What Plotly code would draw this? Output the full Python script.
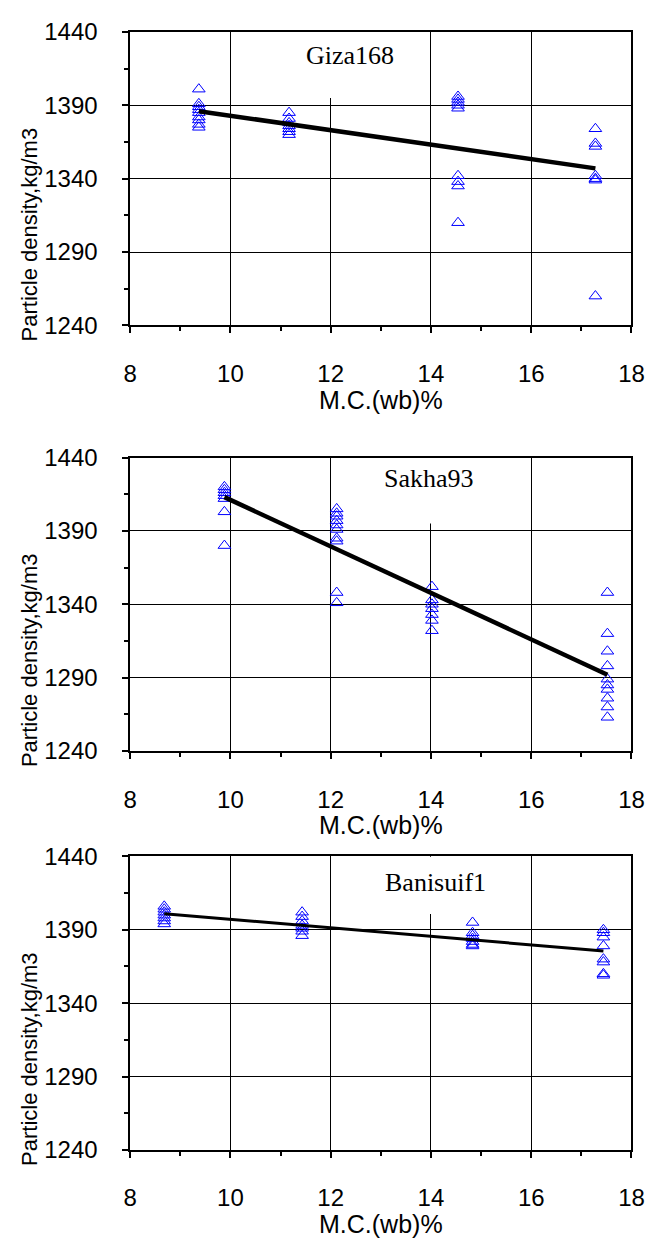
import plotly.graph_objects as go

# ---------------- data ----------------
varieties = ["Giza168", "Sakha93", "Banisuif1"]

giza_mc = [9.37, 9.37, 9.37, 9.37, 9.37, 9.37, 9.37, 9.37, 9.37,
           11.17, 11.17, 11.17, 11.17, 11.17, 11.17, 11.17,
           14.54, 14.54, 14.54, 14.54, 14.54, 14.54, 14.54, 14.54, 14.54,
           17.28, 17.28, 17.28, 17.28, 17.28, 17.28, 17.28]
giza_density = [1401, 1391, 1389, 1387, 1385, 1382, 1380, 1377, 1375,
                1385, 1381, 1378, 1376, 1374, 1372, 1370,
                1396, 1394, 1392, 1390, 1388, 1342, 1338, 1335, 1310,
                1374, 1364, 1362, 1342, 1340, 1339, 1260]
giza_fit_mc = [9.37, 17.28]
giza_fit_density = [1386, 1347]

sakha_mc = [9.88, 9.88, 9.88, 9.88, 9.88, 9.88, 9.88,
            12.12, 12.12, 12.12, 12.12, 12.12, 12.12, 12.12, 12.12, 12.12, 12.12,
            14.02, 14.02, 14.02, 14.02, 14.02, 14.02, 14.02,
            17.52, 17.52, 17.52, 17.52, 17.52, 17.52, 17.52, 17.52, 17.52, 17.52]
sakha_density = [1420, 1418, 1416, 1414, 1412, 1403, 1380,
                 1405, 1402, 1400, 1397, 1394, 1391, 1385, 1383, 1348, 1341,
                 1352, 1343, 1340, 1337, 1333, 1329, 1322,
                 1348, 1320, 1308, 1298, 1289, 1285, 1282, 1276, 1270, 1263]
sakha_fit_mc = [9.88, 17.52]
sakha_fit_density = [1413, 1292]

bani_mc = [8.68, 8.68, 8.68, 8.68, 8.68, 8.68, 8.68,
           11.43, 11.43, 11.43, 11.43, 11.43, 11.43, 11.43,
           14.83, 14.83, 14.83, 14.83, 14.83, 14.83, 14.83,
           17.44, 17.44, 17.44, 17.44, 17.44, 17.44, 17.44, 17.44]
bani_density = [1406, 1404, 1402, 1400, 1398, 1396, 1394,
                1402, 1399, 1396, 1393, 1391, 1389, 1386,
                1395, 1388, 1386, 1384, 1382, 1380, 1379,
                1390, 1388, 1385, 1379, 1370, 1368, 1360, 1359]
bani_fit_mc = [8.68, 17.44]
bani_fit_density = [1401, 1375.5]

x_title = "M.C.(wb)%"
y_title = "Particle density,kg/m3"
x_ticks = [8, 10, 12, 14, 16, 18]
y_ticks = [1240, 1290, 1340, 1390, 1440]

# ---------------- layout geometry (pixels) ----------------
W, H = 660, 1251
X0, X1 = 127, 644
panel_tops = [18.3, 453.3, 861.0]
panel_h = 300.0
title_pos = [(12.39, 1424), (13.96, 1426), (14.10, 1422)]
fit_widths = [4.5, 4.5, 3]
mask_boxes = [(11.35, 13.47, 1395), (12.99, 15.02, 1395), (12.99, 15.2, 1400.7)]

SANS = "Liberation Sans, Arial, sans-serif"
SERIF = "Liberation Serif, Times New Roman, serif"

panels = [(giza_mc, giza_density, giza_fit_mc, giza_fit_density),
          (sakha_mc, sakha_density, sakha_fit_mc, sakha_fit_density),
          (bani_mc, bani_density, bani_fit_mc, bani_fit_density)]

fig = go.Figure()
layout = dict(width=W, height=H, margin=dict(l=0, r=0, t=0, b=0),
              paper_bgcolor="white", plot_bgcolor="white", showlegend=False,
              annotations=[], shapes=[])

for i, (mc, dens, fmc, fden) in enumerate(panels):
    n = i + 1
    xa = "x" if n == 1 else f"x{n}"
    ya = "y" if n == 1 else f"y{n}"
    fig.add_trace(go.Scatter(x=mc, y=dens, mode="markers", xaxis=xa, yaxis=ya,
                             marker=dict(symbol="triangle-up-open", size=11,
                                         color="#0000FF", line=dict(width=1, color="#0000FF"))))
    fig.add_trace(go.Scatter(x=fmc, y=fden, mode="lines", xaxis=xa, yaxis=ya,
                             line=dict(color="black", width=fit_widths[i])))
    top = panel_tops[i]
    bot = top + panel_h
    common = dict(showline=True, linecolor="black", linewidth=1.5, mirror=True,
                  showgrid=True, gridcolor="black", gridwidth=1.2, zeroline=False,
                  ticks="outside", ticklen=6, tickwidth=1.5, tickcolor="black",
                  tickfont=dict(family=SANS, size=24, color="black"))
    layout["xaxis" if n == 1 else f"xaxis{n}"] = dict(
        domain=[X0 / W, X1 / W], anchor=ya, range=[8, 18],
        tickvals=x_ticks, ticklabelstandoff=20,
        minor=dict(dtick=1, tick0=8, ticks="outside", ticklen=4, tickwidth=1.5,
                   tickcolor="black", showgrid=False),
        **common)
    layout["yaxis" if n == 1 else f"yaxis{n}"] = dict(
        domain=[1 - bot / H, 1 - top / H], anchor=xa, range=[1240, 1440],
        tickvals=y_ticks, ticklabelstandoff=20,
        minor=dict(dtick=25, tick0=1240, ticks="outside", ticklen=4, tickwidth=1.5,
                   tickcolor="black", showgrid=False),
        **common)
    # white box behind the panel title (hides gridlines, not data)
    bx0, bx1, by0 = mask_boxes[i]
    layout["shapes"].append(dict(type="rect", xref=xa, yref=ya, x0=bx0, x1=bx1,
                                 y0=by0, y1=1440, fillcolor="white",
                                 line=dict(width=0), layer="between"))
    # panel title
    tx, ty = title_pos[i]
    layout["annotations"].append(dict(text=varieties[i], xref=xa, yref=ya, x=tx, y=ty,
                                      showarrow=False, xanchor="center", yanchor="middle",
                                      font=dict(family=SERIF, size=26, color="black")))
    # x-axis title
    layout["annotations"].append(dict(text=x_title, xref="paper", yref="paper",
                                      x=(X0 + X1) / 2 / W, y=1 - (bot + 76) / H,
                                      showarrow=False, xanchor="center", yanchor="middle",
                                      font=dict(family=SANS, size=25, color="black")))
    # y-axis title
    layout["annotations"].append(dict(text=y_title, xref="paper", yref="paper",
                                      x=23 / W, y=1 - (top + 206.7) / H, textangle=-90,
                                      showarrow=False, xanchor="center", yanchor="middle",
                                      font=dict(family=SANS, size=22, color="black")))

fig.update_layout(**layout)
fig.write_html("out.html")
